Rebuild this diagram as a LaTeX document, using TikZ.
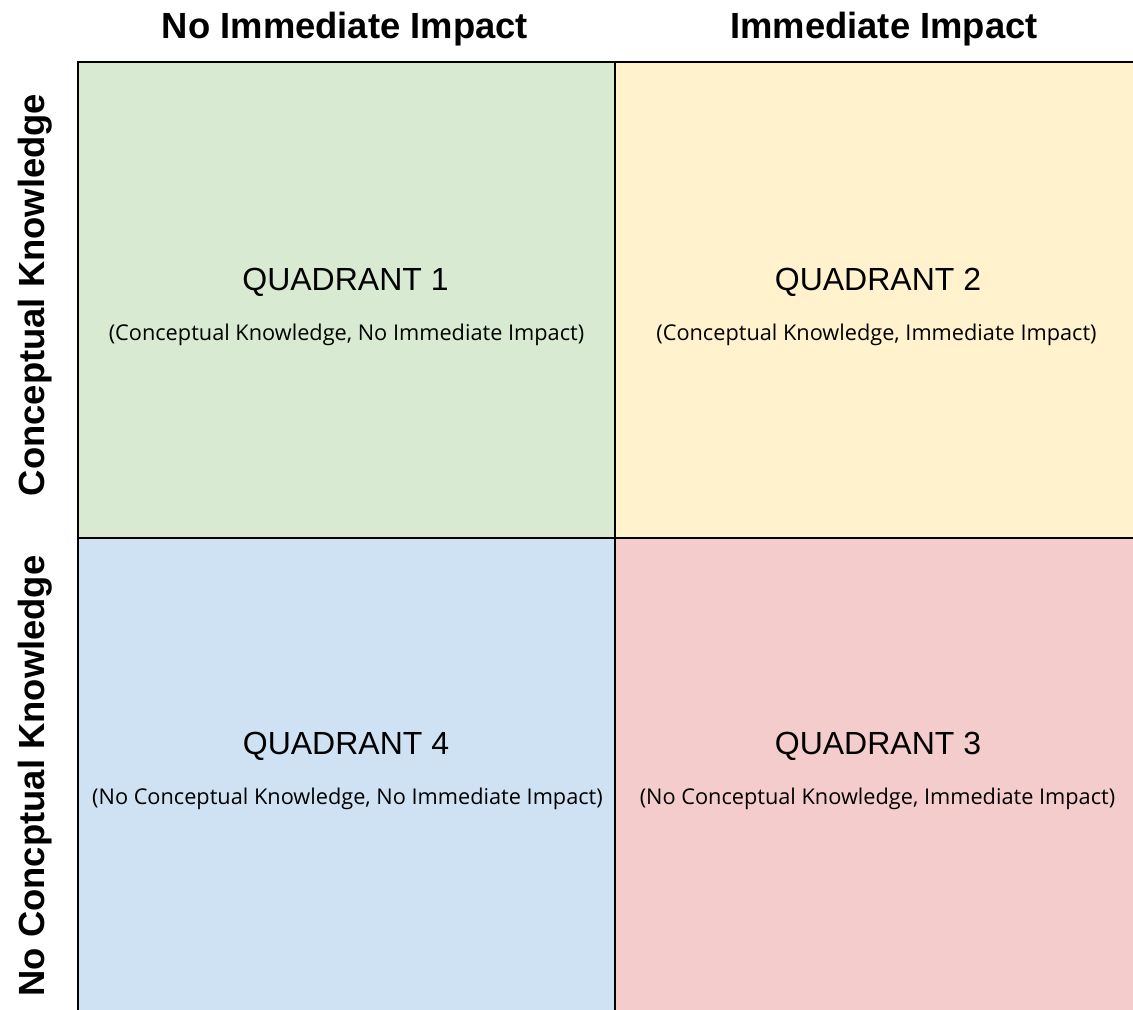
\documentclass[tikz,border=0pt]{standalone}
\usepackage{fontspec}
\setmainfont{Liberation Sans}
\newfontfamily\notefont{Open Sans}
\definecolor{qgreen}{HTML}{D9EAD3}
\definecolor{qyellow}{HTML}{FFF2CC}
\definecolor{qblue}{HTML}{CFE2F3}
\definecolor{qred}{HTML}{F4CCCC}
\begin{document}
\begin{tikzpicture}[x=0.75pt,y=-0.75pt,
  cell/.style={draw=black,line width=1.1pt,inner sep=0pt,outer sep=0pt,
    minimum width=537*0.75pt,minimum height=476*0.75pt,anchor=north west},
  axislabel/.style={font=\fontsize{27.3}{30}\selectfont\bfseries,anchor=base,inner sep=0pt},
  qtitle/.style={font=\fontsize{24}{28}\selectfont,anchor=base,inner sep=0pt},
  qnote/.style={font=\notefont\fontsize{16.3}{19}\selectfont,anchor=base,inner sep=0pt}]
\useasboundingbox (0,0) rectangle (1133,1010);
\begin{scope}
\clip (0,0) rectangle (1133,1010);
% the four quadrants
\node[cell,fill=qgreen]  (q1) at (78,62)  {};
\node[cell,fill=qyellow] (q2) at (615,62) {};
\node[cell,fill=qblue]   (q4) at (78,538) {};
\node[cell,fill=qred]    (q3) at (615,538) {};
\end{scope}
% column headings
\node[axislabel] (h1) at (345,38) {No Immediate Impact};
\node[axislabel] (h2) at (884,38) {Immediate Impact};
% row headings
\node[axislabel,rotate=90] (v1) at (44,295) {Conceptual Knowledge};
\node[axislabel,rotate=90] (v2) at (44,776) {No Concptual Knowledge};
% quadrant texts
\node[qtitle] (t1) at (345.5,290) {QUADRANT 1};
\node[qnote]  (n1) at (346.5,340) {(Conceptual Knowledge, No Immediate Impact)};
\node[qtitle] (t2) at (878,290) {QUADRANT 2};
\node[qnote]  (n2) at (876.5,340) {(Conceptual Knowledge, Immediate Impact)};
\node[qtitle] (t4) at (346,754) {QUADRANT 4};
\node[qnote]  (n4) at (347.5,804) {(No Conceptual Knowledge, No Immediate Impact)};
\node[qtitle] (t3) at (878,754) {QUADRANT 3};
\node[qnote]  (n3) at (877.5,804) {(No Conceptual Knowledge, Immediate Impact)};
\end{tikzpicture}
\end{document}
